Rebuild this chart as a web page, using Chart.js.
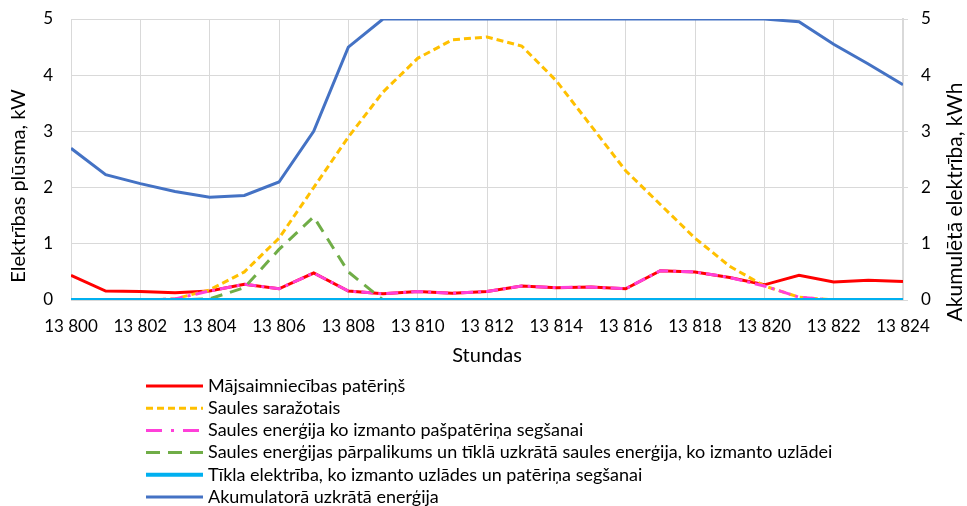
<!DOCTYPE html>
<html>
<head>
<meta charset="UTF-8">
<title>Elektrības plūsma</title>
<script src="https://cdn.jsdelivr.net/npm/chart.js@4.4.4/dist/chart.umd.min.js"></script>
<style>
body { margin: 0; background: #fff; }
#myChart { display: block; }
</style>
</head>
<body>
<canvas id="myChart" width="967" height="506"></canvas>
<script>
// stundas
const hours = [13800, 13801, 13802, 13803, 13804, 13805, 13806, 13807, 13808, 13809, 13810, 13811, 13812,
  13813, 13814, 13815, 13816, 13817, 13818, 13819, 13820, 13821, 13822, 13823, 13824];

const household = [0.44, 0.16, 0.15, 0.13, 0.16, 0.28, 0.20, 0.48, 0.16, 0.11, 0.15, 0.12, 0.15,
  0.25, 0.22, 0.23, 0.20, 0.52, 0.50, 0.40, 0.27, 0.44, 0.32, 0.35, 0.33];
const solar = [0, 0, 0, 0.02, 0.18, 0.50, 1.10, 2.00, 2.90, 3.70, 4.30, 4.63, 4.68,
  4.52, 3.90, 3.10, 2.30, 1.70, 1.10, 0.60, 0.25, 0.05, 0, 0, 0];
const solarSelf = [0, 0, 0, 0.02, 0.16, 0.28, 0.20, 0.48, 0.16, 0.11, 0.15, 0.12, 0.15,
  0.25, 0.22, 0.23, 0.20, 0.52, 0.50, 0.40, 0.25, 0.05, 0, 0, 0];
const solarCharge = [0, 0, 0, 0, 0.02, 0.22, 0.90, 1.48, 0.50, 0, 0, 0, 0,
  0, 0, 0, 0, 0, 0, 0, 0, 0, 0, 0, 0];
const gridUse = [0, 0, 0, 0, 0, 0, 0, 0, 0, 0, 0, 0, 0,
  0, 0, 0, 0, 0, 0, 0, 0, 0, 0, 0, 0];
const battery = [2.70, 2.23, 2.07, 1.93, 1.83, 1.86, 2.10, 3.00, 4.50, 5.00, 5.00, 5.00, 5.00,
  5.00, 5.00, 5.00, 5.00, 5.00, 5.00, 5.00, 5.00, 4.95, 4.55, 4.20, 3.83];

const yTicks = [0, 1, 2, 3, 4, 5];

const FONT = 'Lato, "Noto Sans", sans-serif';

function pts(arr) {
  return arr.map((v, i) => ({ x: hours[i], y: v }));
}

function fmtHour(v) {
  return Math.floor(v / 1000) + ' ' + String(v % 1000).padStart(3, '0');
}

function vertText(ctx, text, x, y, size) {
  ctx.save();
  ctx.translate(x, y);
  ctx.rotate(-Math.PI / 2);
  ctx.textAlign = 'center';
  ctx.textBaseline = 'middle';
  ctx.font = size + 'px ' + FONT;
  ctx.fillStyle = '#000';
  ctx.fillText(text, 0, 0);
  ctx.restore();
}

// legenda zem grafika, vertikāli + asu nosaukumi
const legendPlugin = {
  id: 'vertLegend',
  afterDraw(chart) {
    const ctx = chart.ctx;
    const x0 = 146, x1 = 203, tx = 208;
    let y = 386;
    ctx.save();
    ctx.font = '18px ' + FONT;
    ctx.textBaseline = 'middle';
    chart.data.datasets.forEach(ds => {
      ctx.strokeStyle = ds.borderColor;
      ctx.lineWidth = ds.borderWidth;
      ctx.setLineDash(ds.legendDash || ds.borderDash || []);
      ctx.beginPath();
      ctx.moveTo(x0, y);
      ctx.lineTo(x1, y);
      ctx.stroke();
      ctx.setLineDash([]);
      ctx.fillStyle = '#000';
      ctx.fillText(ds.label, tx, y);
      y += 22.2;
    });
    ctx.restore();
    vertText(ctx, 'Elektrības plūsma, kW', 19, 186, 20);
    vertText(ctx, 'Akumulētā elektrība, kWh', 955, 202, 21);
  }
};

// nepieļauj, lai tiku atstarpe palielina augšējo atkāpi
function fixY(width) {
  return scale => {
    scale.width = width;
    scale.paddingTop = 0;
    scale.paddingBottom = 0;
  };
}

const ctx = document.getElementById('myChart').getContext('2d');
const myChart = new Chart(ctx, {
  type: 'line',
  data: {
    datasets: [
      { label: 'Mājsaimniecības patēriņš', data: pts(household), borderColor: '#FF0000', borderWidth: 3, order: 6, yAxisID: 'y' },
      { label: 'Saules saražotais', data: pts(solar), borderColor: '#FFC000', borderWidth: 3, borderDash: [7, 4], order: 5, yAxisID: 'y' },
      { label: 'Saules enerģija ko izmanto pašpatēriņa segšanai', data: pts(solarSelf), borderColor: '#FF40D9', borderWidth: 3, borderDash: [12, 5, 3, 5], legendDash: [16, 9, 3, 9], order: 4, yAxisID: 'y' },
      { label: 'Saules enerģijas pārpalikums un tīklā uzkrātā saules enerģija, ko izmanto uzlādei', data: pts(solarCharge), borderColor: '#70AD47', borderWidth: 3, borderDash: [12, 8], legendDash: [14, 8], order: 3, yAxisID: 'y' },
      { label: 'Tīkla elektrība, ko izmanto uzlādes un patēriņa segšanai', data: pts(gridUse), borderColor: '#00B0F0', borderWidth: 4, order: 2, yAxisID: 'y' },
      { label: 'Akumulatorā uzkrātā enerģija', data: pts(battery), borderColor: '#4472C4', borderWidth: 3, order: 1, yAxisID: 'y1' }
    ]
  },
  options: {
    responsive: false,
    animation: false,
    elements: { point: { radius: 0 }, line: { tension: 0 } },
    layout: { padding: { top: 19, right: 0, bottom: 134, left: 0 } },
    plugins: {
      legend: { display: false },
      tooltip: { enabled: false }
    },
    scales: {
      x: {
        type: 'linear',
        min: hours[0],
        max: hours[hours.length - 1],
        afterBuildTicks(scale) {
          scale.ticks = hours.filter((h, i) => i % 2 === 0).map(v => ({ value: v }));
        },
        afterFit(scale) { scale.height = 72; },
        grid: { color: '#D9D9D9', drawTicks: false },
        border: { display: false },
        ticks: {
          padding: 16, color: '#000', font: { family: FONT, size: 17 },
          maxRotation: 0, autoSkip: false,
          callback: v => fmtHour(v)
        },
        title: { display: true, text: 'Stundas', color: '#000', font: { family: FONT, size: 20 }, padding: { top: 2, bottom: 4 } }
      },
      y: {
        position: 'left',
        min: 0, max: 5,
        afterBuildTicks(scale) { scale.ticks = yTicks.map(v => ({ value: v })); },
        afterFit: fixY(71),
        grid: { color: '#D9D9D9', drawTicks: false },
        border: { display: false },
        ticks: { padding: 18, color: '#000', font: { family: FONT, size: 17 } }
      },
      y1: {
        position: 'right',
        min: 0, max: 5,
        afterBuildTicks(scale) { scale.ticks = yTicks.map(v => ({ value: v })); },
        afterFit: fixY(64),
        grid: { drawOnChartArea: false, color: '#D9D9D9', tickLength: 5 },
        border: { display: true, color: '#D9D9D9', width: 2 },
        ticks: { padding: 13, color: '#000', font: { family: FONT, size: 17 } }
      }
    }
  },
  plugins: [legendPlugin]
});
</script>
</body>
</html>
